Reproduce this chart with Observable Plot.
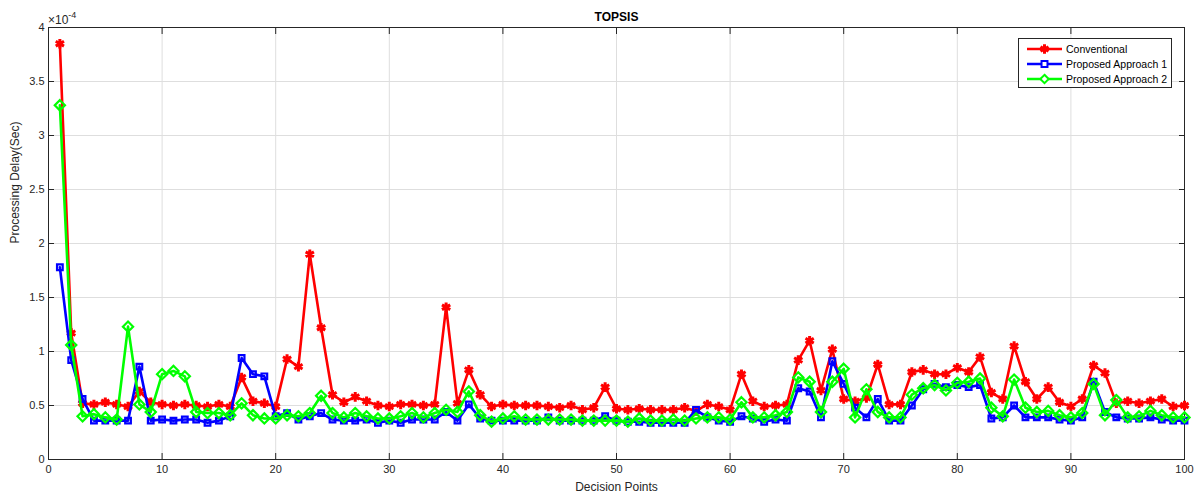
<!DOCTYPE html>
<html>
<head>
<meta charset="utf-8">
<script src="https://cdn.jsdelivr.net/npm/d3@7"></script>
<script src="https://cdn.jsdelivr.net/npm/@observablehq/plot@0.6"></script>
<style>
  body { margin: 0; background: #fff; font-family: "Liberation Sans", Arial, sans-serif; }
  #wrap { position: relative; width: 1203px; height: 501px; }
  #legend { position: absolute; left: 1018px; top: 38px; width: 154px; height: 50px;
            background: #fff; border: 1px solid #262626; box-sizing: border-box;
            font-size: 10.5px; color: #000; }
  .row { position: absolute; left: 8px; height: 14px; display: flex; align-items: center; white-space: nowrap; }
  .row span { margin-left: 4px; }
</style>
</head>
<body>
<div id="wrap"></div>
<script>
// Decision points (x)
const decisionPoints = d3.range(1, 101);
// Processing delay values, in units of 1e-4 s
const conventional = [3.85,1.17,0.52,0.51,0.53,0.51,0.49,0.63,0.53,0.51,
  0.50,0.51,0.50,0.49,0.51,0.49,0.76,0.54,0.52,0.49,
  0.93,0.86,1.90,1.22,0.60,0.53,0.58,0.54,0.50,0.49,
  0.51,0.51,0.50,0.51,1.41,0.52,0.83,0.60,0.49,0.51,
  0.50,0.50,0.50,0.49,0.48,0.50,0.46,0.48,0.67,0.47,
  0.46,0.47,0.46,0.46,0.46,0.48,0.45,0.51,0.49,0.46,
  0.79,0.54,0.49,0.50,0.51,0.92,1.10,0.64,1.02,0.56,
  0.54,0.57,0.88,0.51,0.51,0.81,0.83,0.79,0.79,0.85,
  0.81,0.95,0.62,0.56,1.05,0.72,0.56,0.67,0.53,0.49,
  0.56,0.87,0.80,0.52,0.54,0.52,0.54,0.56,0.49,0.50];
const approach1 = [1.78,0.92,0.56,0.36,0.36,0.36,0.36,0.86,0.36,0.37,
  0.36,0.37,0.37,0.34,0.36,0.40,0.94,0.79,0.77,0.40,
  0.43,0.37,0.40,0.43,0.37,0.36,0.36,0.37,0.34,0.36,
  0.34,0.37,0.37,0.37,0.44,0.36,0.51,0.38,0.36,0.36,
  0.36,0.36,0.36,0.39,0.36,0.36,0.36,0.36,0.40,0.36,
  0.35,0.35,0.34,0.34,0.34,0.34,0.46,0.39,0.36,0.35,
  0.40,0.38,0.35,0.37,0.36,0.66,0.63,0.39,0.91,0.70,
  0.48,0.39,0.56,0.36,0.36,0.50,0.65,0.70,0.67,0.69,
  0.67,0.69,0.38,0.39,0.50,0.39,0.39,0.39,0.37,0.36,
  0.39,0.72,0.44,0.39,0.38,0.38,0.39,0.37,0.36,0.36];
const approach2 = [3.28,1.06,0.40,0.42,0.39,0.37,1.23,0.51,0.44,0.79,
  0.82,0.77,0.44,0.43,0.43,0.41,0.52,0.41,0.38,0.38,
  0.41,0.40,0.43,0.59,0.43,0.39,0.43,0.40,0.38,0.38,
  0.40,0.43,0.39,0.43,0.46,0.44,0.63,0.41,0.35,0.38,
  0.40,0.37,0.37,0.37,0.37,0.37,0.36,0.36,0.36,0.36,
  0.35,0.38,0.36,0.36,0.37,0.36,0.38,0.39,0.39,0.37,
  0.53,0.39,0.39,0.41,0.44,0.76,0.72,0.44,0.72,0.84,
  0.39,0.65,0.44,0.39,0.39,0.60,0.66,0.69,0.64,0.71,
  0.72,0.75,0.48,0.40,0.74,0.48,0.44,0.45,0.41,0.39,
  0.43,0.70,0.41,0.55,0.39,0.40,0.45,0.41,0.39,0.39];
const seriesNames = ["Conventional", "Proposed Approach 1", "Proposed Approach 2"];
const seriesColors = ["#ff0000", "#0000ff", "#00ff00"];
const seriesSymbols = ["asterisk", "square2", "diamond2"];
const xTicks = d3.range(0, 101, 10);
const yTicks = [0, 0.5, 1, 1.5, 2, 2.5, 3, 3.5, 4];

const rows = (vals) => decisionPoints.map((x, i) => ({x, y: vals[i]}));
const series = [conventional, approach1, approach2].map(rows);

const axisColor = "#262626";
const gridColor = "#dedede";

const marks = [
  Plot.gridX(xTicks, {stroke: gridColor, strokeOpacity: 1}),
  Plot.gridY(yTicks, {stroke: gridColor, strokeOpacity: 1}),
  Plot.frame({stroke: axisColor}),
  Plot.axisX(xTicks, {anchor: "bottom", tickSize: -6, tickPadding: 12, fontSize: 11, fill: axisColor, stroke: axisColor, label: null}),
  Plot.axisX(xTicks, {anchor: "top", tickSize: -6, tickFormat: () => "", stroke: axisColor, label: null}),
  Plot.axisY(yTicks, {anchor: "left", tickSize: -6, tickPadding: 10, fontSize: 11, fill: axisColor, stroke: axisColor, tickFormat: d => String(d), label: null}),
  Plot.axisY(yTicks, {anchor: "right", tickSize: -6, tickFormat: () => "", stroke: axisColor, label: null}),
];
series.forEach((data, i) => {
  marks.push(Plot.line(data, {x: "x", y: "y", stroke: seriesColors[i], strokeWidth: 2.6}));
  marks.push(Plot.dot(data, {x: "x", y: "y", symbol: seriesSymbols[i], stroke: seriesColors[i],
    r: i === 0 ? 4.5 : (i === 1 ? 3.6 : 4.6), strokeWidth: i === 0 ? 3 : 2.2, fill: i === 0 ? seriesColors[i] : "none"}));
});
marks.push(Plot.text(["TOPSIS"], {frameAnchor: "top", dy: -15, fontWeight: "bold", fontSize: 12, fill: "#000"}));
marks.push(Plot.text(["Decision Points"], {frameAnchor: "bottom", dy: 31, fontSize: 12, fill: axisColor}));
marks.push(Plot.text(["Processing Delay(Sec)"], {frameAnchor: "left", dx: -33, rotate: -90, fontSize: 12, fill: axisColor}));

const chart = Plot.plot({
  width: 1203,
  height: 501,
  marginLeft: 48,
  marginRight: 19,
  marginTop: 27,
  marginBottom: 42,
  style: {fontFamily: "'Liberation Sans', Arial, sans-serif", background: "#fff", overflow: "visible"},
  x: {domain: [0, 100]},
  y: {domain: [0, 4]},
  marks
});
document.getElementById("wrap").appendChild(chart);

// exponent label
const svg = d3.select(chart);
const ex = svg.append("text").attr("x", 48).attr("y", 24).attr("font-size", 12).attr("fill", axisColor)
  .attr("text-anchor", "start")
  .attr("font-family", "'Liberation Sans', Arial, sans-serif");
ex.append("tspan").text("\u00d710");
ex.append("tspan").attr("dy", -6).attr("font-size", 9).text("-4");

// legend
const legend = document.createElement("div");
legend.id = "legend";
seriesNames.forEach((name, i) => {
  const row = document.createElement("div");
  row.className = "row";
  row.style.top = (3 + i * 15) + "px";
  const s = d3.create("svg").attr("width", 35).attr("height", 14);
  s.append("line").attr("x1", 0).attr("x2", 35).attr("y1", 7).attr("y2", 7)
    .attr("stroke", seriesColors[i]).attr("stroke-width", 2.6);
  const sym = d3.symbol(i === 0 ? d3.symbolAsterisk : (i === 1 ? d3.symbolSquare2 : d3.symbolDiamond2), i === 0 ? 60 : 45)();
  s.append("path").attr("d", sym).attr("transform", "translate(17.5,7)")
    .attr("stroke", seriesColors[i]).attr("stroke-width", i === 0 ? 3 : 2).attr("fill", i === 0 ? seriesColors[i] : "white");
  row.appendChild(s.node());
  const t = document.createElement("span");
  t.textContent = name;
  row.appendChild(t);
  legend.appendChild(row);
});
document.getElementById("wrap").appendChild(legend);
</script>
</body>
</html>
